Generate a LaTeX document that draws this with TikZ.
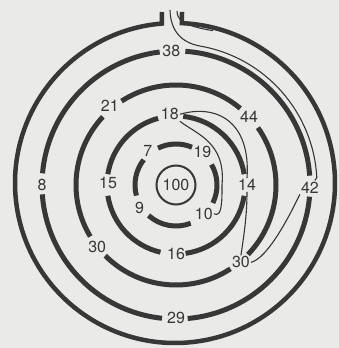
\documentclass[tikz,border=0pt]{standalone}
\usepackage{fontspec}
\setmainfont{TeX Gyre Heros}
\usetikzlibrary{calc}
\definecolor{paper}{RGB}{234,234,232}
\definecolor{ink}{RGB}{55,55,55}

\begin{document}
\begin{tikzpicture}[
  x=1pt, y=1pt,
  wall/.style={draw=ink, line width=5pt},
  num/.style={text=ink, font=\fontsize{16}{16}\selectfont, inner sep=1pt},
  trail/.style={draw=ink, line width=1.1pt}
]

\useasboundingbox[fill=paper] (0,0) rectangle (339,348);

\coordinate (C) at (176,163);
\coordinate (O6) at (175,165);

% Labels in the gaps
\node[num] (n38) at ([shift={(92:134)}]C) {38};
\node[num] (n8) at ([shift={(180:134)}]C) {8};
\node[num] (n42) at ([shift={(-1:134)}]C) {42};
\node[num] (n29) at ([shift={(270:133)}]C) {29};
\node[num] (n21) at ([shift={(130:103)}]C) {21};
\node[num] (n44) at ([shift={(43:100)}]C) {44};
\node[num] (n30r) at ([shift={(-50:101)}]C) {30};
\node[num] (n30l) at ([shift={(218:100)}]C) {30};
\node[num] (n18) at ([shift={(95:71)}]C) {18};
\node[num] (n14) at ([shift={(0:71)}]C) {14};
\node[num] (n16) at ([shift={(270:69)}]C) {16};
\node[num] (n15) at ([shift={(178:68)}]C) {15};
\node[num] (n7) at ([shift={(130:44)}]C) {7};
\node[num] (n19) at ([shift={(51:42)}]C) {19};
\node[num] (n10) at ([shift={(-46:40)}]C) {10};
\node[num] (n9) at ([shift={(212:43)}]C) {9};
\node[num, draw=ink, circle, line width=2pt, minimum size=39pt, inner sep=0pt] (n100) at (C) {100};

% Path through the maze
\coordinate (gate) at (170,338);
\coordinate (gate2) at (177,337);
\draw[trail] (gate) .. controls (170.5,318) and (180.5,305.4) .. ([shift={(80:141)}]C)
  arc[start angle=80, end angle=3, radius=141] -- (n42);
\draw[trail] (gate2) .. controls (177,328) and (184,322) .. ([shift={(76:157)}]O6);
\draw[trail] (n42.south west) .. controls (290,133) and (268,90) .. (n30r.east);
\draw[trail] (n30r.north) .. controls (244,113) and (247,133) .. (n14.south);
\draw[trail] (n14.north) .. controls (251,228) and (215,244) .. (n18.east);
\draw[trail] (n18.south east) .. controls (196,214) and (226,206) .. (222,163)
  .. controls (222,146) and (222,130) .. (n10.east);

% Outer wall with the gate
\draw[wall, line width=4.5pt] (162,336) -- ([shift={(94.7:160)}]O6)
  arc[start angle=94.7, end angle=447.5, radius=160] -- (182,336);

% Ring 38 / 8 / 29 / 42
\draw[wall] ([shift={(4:134)}]C) arc[start angle=4, end angle=86, radius=134];
\draw[wall] ([shift={(97:134)}]C) arc[start angle=97, end angle=175, radius=134];
\draw[wall] ([shift={(184:134)}]C) arc[start angle=184, end angle=264, radius=134];
\draw[wall] ([shift={(275:134)}]C) arc[start angle=275, end angle=355, radius=134];

% Ring 21 / 44 / 30 / 30
\draw[wall] ([shift={(50:100)}]C) arc[start angle=50, end angle=123, radius=100];
\draw[wall] ([shift={(137:100)}]C) arc[start angle=137, end angle=211, radius=100];
\draw[wall] ([shift={(225:100)}]C) arc[start angle=225, end angle=303, radius=100];
\draw[wall] ([shift={(-44:100)}]C) arc[start angle=-44, end angle=35, radius=100];

% Ring 18 / 15 / 16 / 14
\draw[wall] ([shift={(9:69)}]C) arc[start angle=9, end angle=84, radius=69];
\draw[wall] ([shift={(105:69)}]C) arc[start angle=105, end angle=171, radius=69];
\draw[wall] ([shift={(189:69)}]C) arc[start angle=189, end angle=257, radius=69];
\draw[wall] ([shift={(278:69)}]C) arc[start angle=278, end angle=351, radius=69];

% Ring 7 / 9 / 10 / 19
\draw[wall] ([shift={(67:41)}]C) arc[start angle=67, end angle=116, radius=41];
\draw[wall] ([shift={(142:41)}]C) arc[start angle=142, end angle=195, radius=41];
\draw[wall] ([shift={(228:41)}]C) arc[start angle=228, end angle=291, radius=41];
\draw[wall] ([shift={(-26:41)}]C) arc[start angle=-26, end angle=30, radius=41];

\end{tikzpicture}
\end{document}
